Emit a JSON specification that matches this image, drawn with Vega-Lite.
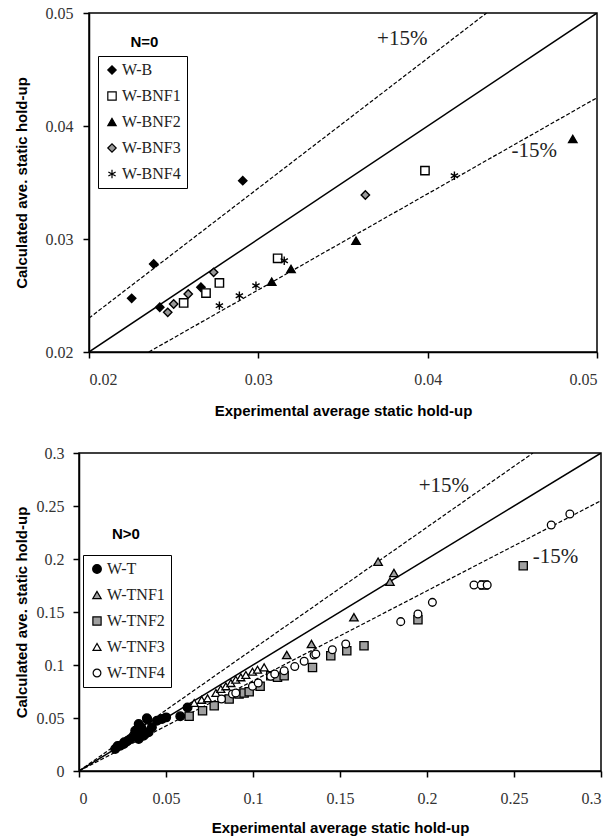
{
  "$schema": "https://vega.github.io/schema/vega-lite/v6.json",
  "background": "white",
  "padding": {"left": 12, "top": 4, "right": 8, "bottom": 1},
  "config": {
    "view": {"stroke": "black", "strokeWidth": 1.5},
    "axis": {"grid": false, "domainColor": "black", "domainWidth": 1.5, "tickColor": "black", "tickWidth": 1.5, "tickSize": 6,
      "labelFont": "Liberation Serif", "labelFontSize": 16, "labelColor": "#333",
      "titleFont": "Liberation Sans", "titleFontSize": 15, "titleFontWeight": "bold", "titleColor": "black"},
    "legend": {"orient": "none", "title": null, "strokeColor": "black", "fillColor": "white", "padding": 6,
      "labelFont": "Liberation Serif", "labelFontSize": 16, "labelColor": "#222", "rowPadding": 10, "symbolStrokeWidth": 1.2, "labelOffset": 2}
  },
  "datasets": {
    "top": [
      {"series": "W-B", "x": 0.02252, "y": 0.02475},
      {"series": "W-B", "x": 0.02382, "y": 0.02779},
      {"series": "W-B", "x": 0.02418, "y": 0.02396},
      {"series": "W-B", "x": 0.02661, "y": 0.02573},
      {"series": "W-B", "x": 0.02908, "y": 0.03516},
      {"series": "W-BNF1", "x": 0.02559, "y": 0.02434},
      {"series": "W-BNF1", "x": 0.02691, "y": 0.02522},
      {"series": "W-BNF1", "x": 0.0277, "y": 0.02611},
      {"series": "W-BNF1", "x": 0.03114, "y": 0.02829},
      {"series": "W-BNF1", "x": 0.03984, "y": 0.03605},
      {"series": "W-BNF2", "x": 0.03079, "y": 0.02622},
      {"series": "W-BNF2", "x": 0.03193, "y": 0.02735},
      {"series": "W-BNF2", "x": 0.03577, "y": 0.02985},
      {"series": "W-BNF2", "x": 0.04857, "y": 0.03885},
      {"series": "W-BNF3", "x": 0.02465, "y": 0.02351},
      {"series": "W-BNF3", "x": 0.025, "y": 0.02425},
      {"series": "W-BNF3", "x": 0.02586, "y": 0.02513},
      {"series": "W-BNF3", "x": 0.02736, "y": 0.02705},
      {"series": "W-BNF3", "x": 0.03632, "y": 0.03389},
      {"series": "W-BNF4", "x": 0.0277, "y": 0.0241},
      {"series": "W-BNF4", "x": 0.02888, "y": 0.02498},
      {"series": "W-BNF4", "x": 0.02986, "y": 0.02587},
      {"series": "W-BNF4", "x": 0.03153, "y": 0.02808},
      {"series": "W-BNF4", "x": 0.04158, "y": 0.0356}
    ],
    "topLines": [
      {"line": "eq", "x": 0.02, "y": 0.02}, {"line": "eq", "x": 0.05, "y": 0.05},
      {"line": "p15", "x": 0.02, "y": 0.023}, {"line": "p15", "x": 0.04348, "y": 0.05},
      {"line": "m15", "x": 0.02353, "y": 0.02}, {"line": "m15", "x": 0.05, "y": 0.0425}
    ],
    "topNotes": [
      {"label": "+15%", "kind": "pct", "x": 0.0385, "y": 0.0477},
      {"label": "-15%", "kind": "pct", "x": 0.0463, "y": 0.0378},
      {"label": "N=0", "kind": "n", "x": 0.02327, "y": 0.0474}
    ],
    "bot": [
      {"series": "W-T", "x": 0.0208, "y": 0.0208},
      {"series": "W-T", "x": 0.0222, "y": 0.0235},
      {"series": "W-T", "x": 0.0237, "y": 0.0239},
      {"series": "W-T", "x": 0.0257, "y": 0.0255},
      {"series": "W-T", "x": 0.026, "y": 0.0271},
      {"series": "W-T", "x": 0.028, "y": 0.0285},
      {"series": "W-T", "x": 0.0295, "y": 0.0302},
      {"series": "W-T", "x": 0.0314, "y": 0.0333},
      {"series": "W-T", "x": 0.0323, "y": 0.038},
      {"series": "W-T", "x": 0.0333, "y": 0.036},
      {"series": "W-T", "x": 0.0343, "y": 0.0302},
      {"series": "W-T", "x": 0.0343, "y": 0.0443},
      {"series": "W-T", "x": 0.0356, "y": 0.0412},
      {"series": "W-T", "x": 0.0362, "y": 0.0396},
      {"series": "W-T", "x": 0.0371, "y": 0.0333},
      {"series": "W-T", "x": 0.038, "y": 0.035},
      {"series": "W-T", "x": 0.039, "y": 0.0497},
      {"series": "W-T", "x": 0.0394, "y": 0.0484},
      {"series": "W-T", "x": 0.04, "y": 0.0365},
      {"series": "W-T", "x": 0.0419, "y": 0.0412},
      {"series": "W-T", "x": 0.0448, "y": 0.0475},
      {"series": "W-T", "x": 0.0477, "y": 0.0491},
      {"series": "W-T", "x": 0.0501, "y": 0.0506},
      {"series": "W-T", "x": 0.0582, "y": 0.0516},
      {"series": "W-T", "x": 0.0624, "y": 0.06},
      {"series": "W-TNF1", "x": 0.1194, "y": 0.1094},
      {"series": "W-TNF1", "x": 0.1336, "y": 0.1198},
      {"series": "W-TNF1", "x": 0.158, "y": 0.145},
      {"series": "W-TNF1", "x": 0.1719, "y": 0.1975},
      {"series": "W-TNF1", "x": 0.1787, "y": 0.1786},
      {"series": "W-TNF1", "x": 0.181, "y": 0.1868},
      {"series": "W-TNF2", "x": 0.0633, "y": 0.0516},
      {"series": "W-TNF2", "x": 0.071, "y": 0.0569},
      {"series": "W-TNF2", "x": 0.0777, "y": 0.0616},
      {"series": "W-TNF2", "x": 0.0863, "y": 0.0679},
      {"series": "W-TNF2", "x": 0.092, "y": 0.0726},
      {"series": "W-TNF2", "x": 0.0949, "y": 0.0736},
      {"series": "W-TNF2", "x": 0.0978, "y": 0.0748},
      {"series": "W-TNF2", "x": 0.1041, "y": 0.0799},
      {"series": "W-TNF2", "x": 0.1102, "y": 0.0899},
      {"series": "W-TNF2", "x": 0.1141, "y": 0.0884},
      {"series": "W-TNF2", "x": 0.1179, "y": 0.0899},
      {"series": "W-TNF2", "x": 0.1342, "y": 0.0976},
      {"series": "W-TNF2", "x": 0.1447, "y": 0.1088},
      {"series": "W-TNF2", "x": 0.1539, "y": 0.1135},
      {"series": "W-TNF2", "x": 0.1638, "y": 0.1182},
      {"series": "W-TNF2", "x": 0.1948, "y": 0.1427},
      {"series": "W-TNF2", "x": 0.2327, "y": 0.1755},
      {"series": "W-TNF2", "x": 0.2553, "y": 0.1937},
      {"series": "W-TNF3", "x": 0.0662, "y": 0.0642},
      {"series": "W-TNF3", "x": 0.0705, "y": 0.0672},
      {"series": "W-TNF3", "x": 0.0739, "y": 0.0686},
      {"series": "W-TNF3", "x": 0.0787, "y": 0.0736},
      {"series": "W-TNF3", "x": 0.0815, "y": 0.0774},
      {"series": "W-TNF3", "x": 0.0844, "y": 0.0799},
      {"series": "W-TNF3", "x": 0.0873, "y": 0.083},
      {"series": "W-TNF3", "x": 0.0901, "y": 0.0861},
      {"series": "W-TNF3", "x": 0.093, "y": 0.0884},
      {"series": "W-TNF3", "x": 0.0959, "y": 0.0906},
      {"series": "W-TNF3", "x": 0.0997, "y": 0.0937},
      {"series": "W-TNF3", "x": 0.1026, "y": 0.0956},
      {"series": "W-TNF3", "x": 0.1064, "y": 0.0978},
      {"series": "W-TNF4", "x": 0.0819, "y": 0.0679},
      {"series": "W-TNF4", "x": 0.0882, "y": 0.0726},
      {"series": "W-TNF4", "x": 0.0901, "y": 0.0736},
      {"series": "W-TNF4", "x": 0.0997, "y": 0.0799},
      {"series": "W-TNF4", "x": 0.103, "y": 0.083},
      {"series": "W-TNF4", "x": 0.1102, "y": 0.0893},
      {"series": "W-TNF4", "x": 0.1125, "y": 0.0915},
      {"series": "W-TNF4", "x": 0.1179, "y": 0.0946},
      {"series": "W-TNF4", "x": 0.124, "y": 0.0985},
      {"series": "W-TNF4", "x": 0.1294, "y": 0.1035},
      {"series": "W-TNF4", "x": 0.1351, "y": 0.1094},
      {"series": "W-TNF4", "x": 0.1361, "y": 0.1104},
      {"series": "W-TNF4", "x": 0.1456, "y": 0.1144},
      {"series": "W-TNF4", "x": 0.1533, "y": 0.1198},
      {"series": "W-TNF4", "x": 0.1849, "y": 0.1409},
      {"series": "W-TNF4", "x": 0.1948, "y": 0.1481},
      {"series": "W-TNF4", "x": 0.2031, "y": 0.1591},
      {"series": "W-TNF4", "x": 0.227, "y": 0.1755},
      {"series": "W-TNF4", "x": 0.2312, "y": 0.1755},
      {"series": "W-TNF4", "x": 0.2346, "y": 0.1755},
      {"series": "W-TNF4", "x": 0.2714, "y": 0.2321},
      {"series": "W-TNF4", "x": 0.2821, "y": 0.2425}
    ],
    "botLines": [
      {"line": "eq", "x": 0, "y": 0}, {"line": "eq", "x": 0.3, "y": 0.3},
      {"line": "p15", "x": 0, "y": 0}, {"line": "p15", "x": 0.2609, "y": 0.3},
      {"line": "m15", "x": 0, "y": 0}, {"line": "m15", "x": 0.3, "y": 0.255}
    ],
    "botNotes": [
      {"label": "+15%", "kind": "pct", "x": 0.2097, "y": 0.2692},
      {"label": "-15%", "kind": "pct", "x": 0.2739, "y": 0.2016},
      {"label": "N>0", "kind": "n", "x": 0.027, "y": 0.2236}
    ],
    "empty": []
  },
  "vconcat": [
    {"hconcat": [
      {"width": 1, "height": 1, "data": {"name": "empty"}, "mark": {"type": "point"}, "encoding": {}, "view": {"stroke": null}},
      {
      "width": 508,
      "height": 339,
      "encoding": {
        "x": {"field": "x", "type": "quantitative", "scale": {"domain": [0.02, 0.05], "zero": false, "nice": false},
          "axis": {"values": [0.02, 0.03, 0.04, 0.05], "format": "~g", "title": "Experimental average static hold-up", "labelPadding": 13, "titlePadding": 16}},
        "y": {"field": "y", "type": "quantitative", "scale": {"domain": [0.02, 0.05], "zero": false, "nice": false},
          "axis": {"values": [0.02, 0.03, 0.04, 0.05], "format": "~g", "title": "Calculated ave. static hold-up", "labelPadding": 10, "titlePadding": 16}}
      },
      "layer": [
        {"data": {"name": "topLines"}, "transform": [{"filter": "datum.line === 'eq'"}],
          "mark": {"type": "line", "color": "black", "strokeWidth": 1.5, "clip": true}, "encoding": {"detail": {"field": "line"}}},
        {"data": {"name": "topLines"}, "transform": [{"filter": "datum.line !== 'eq'"}],
          "mark": {"type": "line", "color": "black", "strokeWidth": 1.2, "strokeDash": [4, 2], "clip": true}, "encoding": {"detail": {"field": "line"}}},
        {"data": {"name": "top"},
          "mark": {"type": "point", "filled": true, "strokeWidth": 1.4, "opacity": 1},
          "encoding": {
            "shape": {"field": "series", "type": "nominal", "scale": {"domain": ["W-B", "W-BNF1", "W-BNF2", "W-BNF3", "W-BNF4"], "range": ["diamond", "square", "triangle-up", "diamond", "M0,-1L0,1M-0.87,-0.5L0.87,0.5M-0.87,0.5L0.87,-0.5"]},
              "legend": {"legendX": 86, "legendY": 43, "symbolSize": 70}},
            "fill": {"field": "series", "type": "nominal", "scale": {"domain": ["W-B", "W-BNF1", "W-BNF2", "W-BNF3", "W-BNF4"], "range": ["black", "white", "black", "#999999", "transparent"]}},
            "stroke": {"field": "series", "type": "nominal", "scale": {"domain": ["W-B", "W-BNF1", "W-BNF2", "W-BNF3", "W-BNF4"], "range": ["black", "black", "black", "black", "black"]}},
            "size": {"field": "series", "type": "nominal", "scale": {"domain": ["W-B", "W-BNF1", "W-BNF2", "W-BNF3", "W-BNF4"], "range": [70, 70, 70, 45, 650]}}
          }},
        {"data": {"name": "topNotes"}, "transform": [{"filter": "datum.kind === 'pct'"}],
          "mark": {"type": "text", "font": "Liberation Serif", "fontSize": 21, "color": "#222"},
          "encoding": {"text": {"field": "label"}}},
        {"data": {"name": "topNotes"}, "transform": [{"filter": "datum.kind === 'n'"}],
          "mark": {"type": "text", "font": "Liberation Sans", "fontSize": 15, "fontWeight": "bold", "color": "black"},
          "encoding": {"text": {"field": "label"}}}
      ]
    }], "spacing": 0},
    {"hconcat": [
      {"width": 1, "height": 1, "data": {"name": "empty"}, "mark": {"type": "point"}, "encoding": {}, "view": {"stroke": null}},
      {
      "width": 522,
      "height": 318,
      "encoding": {
        "x": {"field": "x", "type": "quantitative", "scale": {"domain": [0, 0.3], "nice": false},
          "axis": {"values": [0, 0.05, 0.1, 0.15, 0.2, 0.25, 0.3], "format": "~g", "title": "Experimental average static hold-up", "labelPadding": 13, "titlePadding": 14}},
        "y": {"field": "y", "type": "quantitative", "scale": {"domain": [0, 0.3], "nice": false},
          "axis": {"values": [0, 0.05, 0.1, 0.15, 0.2, 0.25, 0.3], "format": "~g", "title": "Calculated ave. static hold-up", "labelPadding": 9, "titlePadding": 7}}
      },
      "layer": [
        {"data": {"name": "botLines"}, "transform": [{"filter": "datum.line === 'eq'"}],
          "mark": {"type": "line", "color": "black", "strokeWidth": 1.5, "clip": true}, "encoding": {"detail": {"field": "line"}}},
        {"data": {"name": "botLines"}, "transform": [{"filter": "datum.line !== 'eq'"}],
          "mark": {"type": "line", "color": "black", "strokeWidth": 1.2, "strokeDash": [4, 2], "clip": true}, "encoding": {"detail": {"field": "line"}}},
        {"data": {"name": "bot"},
          "mark": {"type": "point", "filled": true, "strokeWidth": 1.3, "opacity": 1},
          "encoding": {
            "shape": {"field": "series", "type": "nominal", "scale": {"domain": ["W-T", "W-TNF1", "W-TNF2", "W-TNF3", "W-TNF4"], "range": ["circle", "triangle-up", "square", "triangle-up", "circle"]},
              "legend": {"legendX": 71, "legendY": 102, "symbolSize": 70}},
            "fill": {"field": "series", "type": "nominal", "scale": {"domain": ["W-T", "W-TNF1", "W-TNF2", "W-TNF3", "W-TNF4"], "range": ["black", "#a0a0a0", "#a0a0a0", "white", "white"]}},
            "stroke": {"field": "series", "type": "nominal", "scale": {"domain": ["W-T", "W-TNF1", "W-TNF2", "W-TNF3", "W-TNF4"], "range": ["black", "black", "black", "black", "black"]}},
            "size": {"field": "series", "type": "nominal", "scale": {"domain": ["W-T", "W-TNF1", "W-TNF2", "W-TNF3", "W-TNF4"], "range": [75, 60, 60, 60, 110]}}
          }},
        {"data": {"name": "botNotes"}, "transform": [{"filter": "datum.kind === 'pct'"}],
          "mark": {"type": "text", "font": "Liberation Serif", "fontSize": 21, "color": "#222"},
          "encoding": {"text": {"field": "label"}}},
        {"data": {"name": "botNotes"}, "transform": [{"filter": "datum.kind === 'n'"}],
          "mark": {"type": "text", "font": "Liberation Sans", "fontSize": 15, "fontWeight": "bold", "color": "black"},
          "encoding": {"text": {"field": "label"}}}
      ]
    }], "spacing": 0}
  ],
  "spacing": 25,
  "resolve": {"scale": {"x": "independent", "y": "independent", "shape": "independent", "fill": "independent", "stroke": "independent", "size": "independent"},
    "legend": {"shape": "independent", "fill": "independent", "stroke": "independent", "size": "independent"}}
}
